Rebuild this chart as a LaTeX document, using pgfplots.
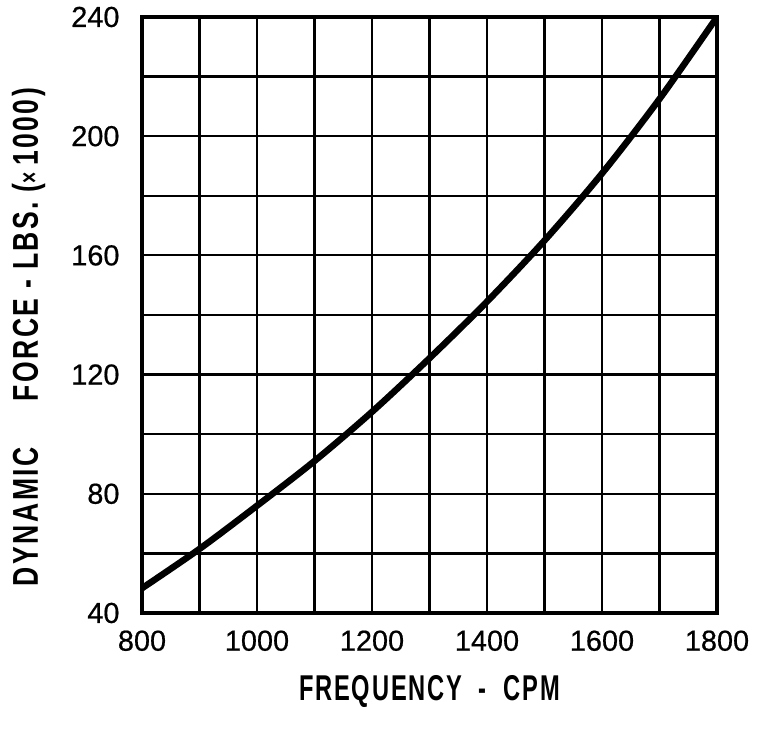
\documentclass[border=0pt]{standalone}
\usepackage{fontspec}
\setmainfont{Liberation Sans}
\newfontfamily\labelfont[FakeStretch=0.74,LetterSpace=7]{Liberation Sans Bold}
\newfontfamily\xlabfont[FakeStretch=0.66,LetterSpace=5]{Liberation Sans Bold}
\newfontfamily\tickfont[FakeBold=0.6]{Liberation Sans}
\usepackage{pgfplots}
\pgfplotsset{compat=1.18}
\begin{document}
\begin{tikzpicture}
\begin{axis}[
  scale only axis,
  width=575bp, height=596bp,
  xmin=800, xmax=1800, ymin=40, ymax=240,
  xtick={800,1000,...,1800},
  ytick={40,80,...,240},
  minor x tick num=1,
  minor y tick num=1,
  grid=both,
  major grid style={line width=2.2bp, black},
  minor grid style={line width=2.2bp, black},
  axis line style={line width=4.5bp, black},
  major tick length=0pt, minor tick length=0pt,
  tick style={draw=none},
  /pgf/number format/assume math mode=true,
  /pgf/number format/1000 sep={},
  tick label style={font=\tickfont\fontsize{29}{32}\selectfont},
  xticklabel style={yshift=-14bp},
  yticklabel style={xshift=-19bp},
  xlabel={\xlabfont\fontsize{36}{40}\selectfont FREQUENCY\ \ -\ \ CPM},
  ylabel={\labelfont\fontsize{36}{40}\selectfont DYNAMIC\quad\ FORCE - LBS. ({\fontsize{26}{30}\selectfont\char"00D7}\,1000)},
  xlabel style={at={(axis description cs:0.5,-0.131)}, anchor=center},
  ylabel style={at={(axis description cs:-0.197,0.463)}, anchor=center},
]
\addplot[line width=6.5bp, black, smooth] coordinates {
  (800,48.3) (900,61.5) (1000,76) (1100,91) (1200,107.5) (1300,125.5)
  (1400,144.5) (1500,165) (1600,187.5) (1700,212.5) (1800,240)
};
\coordinate (sw) at (rel axis cs:0,0);
\coordinate (ne) at (rel axis cs:1,1);
\end{axis}
\pgfresetboundingbox
\path ([shift={(-142bp,-117bp)}]sw) rectangle ([shift={(42bp,17bp)}]ne);
\end{tikzpicture}
\end{document}
